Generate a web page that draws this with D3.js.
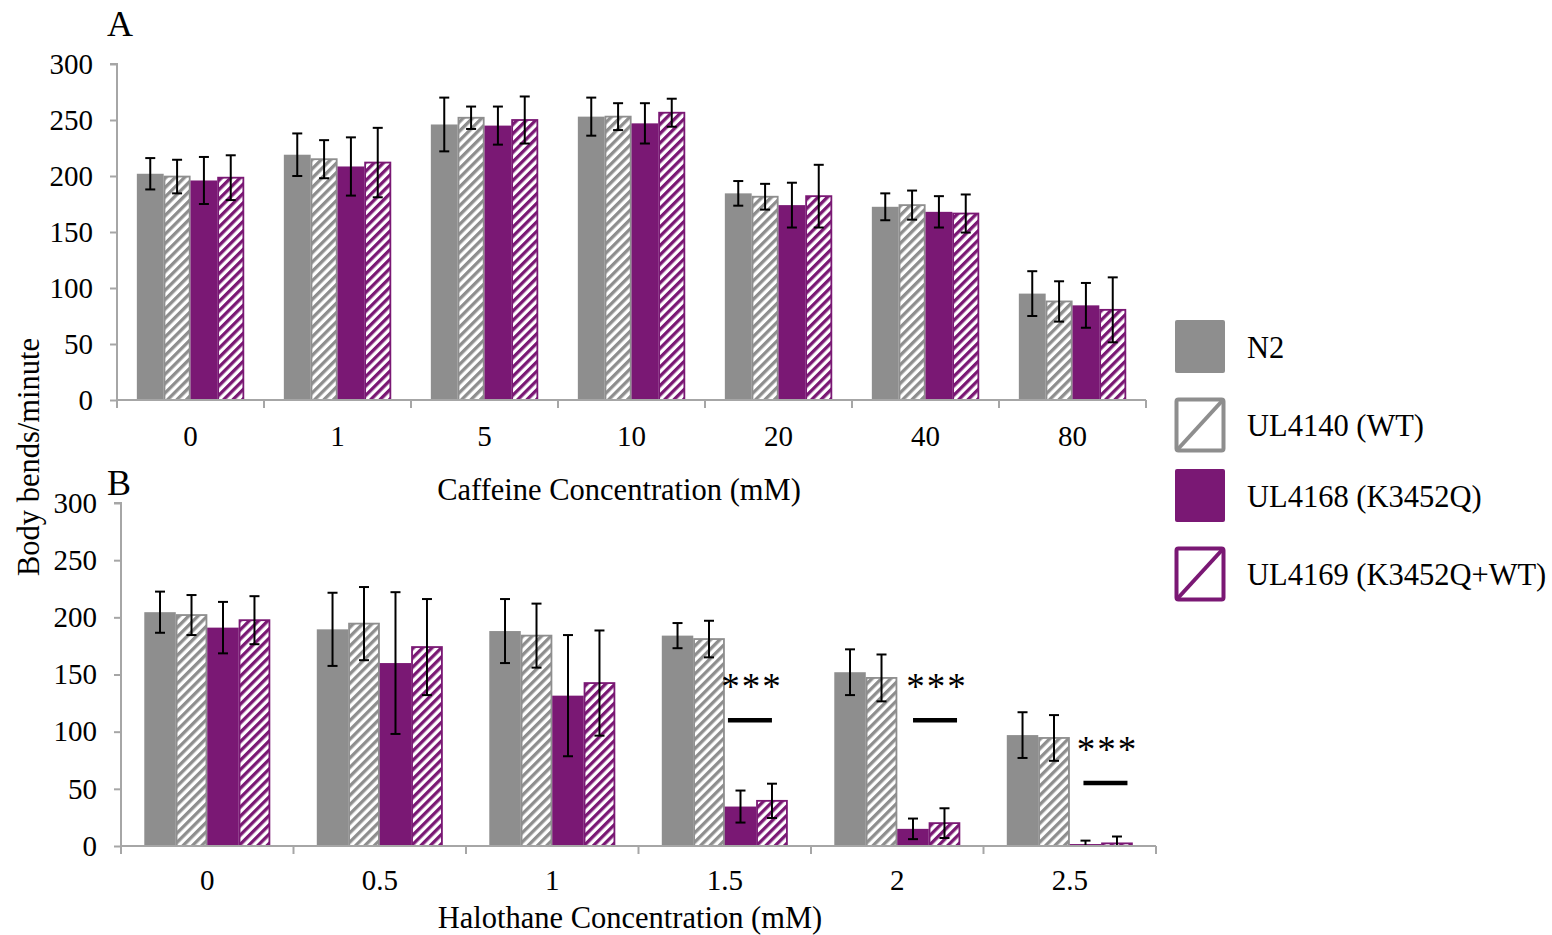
<!DOCTYPE html>
<html>
<head>
<meta charset="utf-8">
<script src="https://cdn.jsdelivr.net/npm/d3@7"></script>
<style>
  html, body { margin: 0; padding: 0; background: #fff; }
  svg { display: block; }
  text { font-family: "Liberation Serif", "Times New Roman", serif; fill: #000; }
</style>
</head>
<body>
<svg id="chart" width="1552" height="935"></svg>
<script>
// ---------------- DATA ----------------
const seriesNames = ["N2", "UL4140 (WT)", "UL4168 (K3452Q)", "UL4169 (K3452Q+WT)"];

// Panel A: caffeine
const caffeineConc = ["0", "1", "5", "10", "20", "40", "80"];
const caffN2      = [202, 219, 246, 253, 184.5, 172.5, 95];
const caffN2Err   = [14, 19, 24, 17, 11, 12, 20];
const caffWT      = [199.5, 215, 252, 253, 181.5, 174, 88];
const caffWTErr   = [15, 17, 10, 12, 11.5, 13, 18];
const caffK       = [196, 208.5, 245, 247, 174, 168, 84.5];
const caffKErr    = [21, 26, 17, 18, 20, 14, 20];
const caffKWT     = [198.5, 212, 250, 256.5, 182, 166.5, 80.5];
const caffKWTErr  = [20, 31, 21, 12.5, 28, 17, 29];

// Panel B: halothane
const halothaneConc = ["0", "0.5", "1", "1.5", "2", "2.5"];
const haloN2      = [204.5, 189.5, 188, 184, 152, 97];
const haloN2Err   = [18, 32, 28, 11, 20, 20];
const haloWT      = [202, 194.5, 184, 181, 147, 94.5];
const haloWTErr   = [17.5, 32, 28, 16, 20.5, 20];
const haloK       = [191, 160, 131.5, 34.5, 15, 1.7];
const haloKErr    = [22.5, 62, 53, 14, 9, 3];
const haloKWT     = [197.5, 174, 142.5, 39.5, 20, 2.3];
const haloKWTErr  = [21, 42, 46, 15, 13, 6];

// significance annotations (panel B)
const sigConc  = ["1.5", "2", "2.5"];
const sigLabel = ["***", "***", "***"];
const sigValue = [110, 110, 55];          // y-value of the bar under the stars
const sigFrac  = [0.646, 0.719, 0.707];   // position within the category band

const yTicks = [0, 50, 100, 150, 200, 250, 300];

// ---------------- STYLE ----------------
const GRAY = "#8e8e8e";
const PURPLE = "#7a1874";
const AXIS = "#a6a6a6";
const TICK_FS = "29px";
const TITLE_FS = "30.5px";
const styles = [
  { fill: GRAY, stroke: "none" },
  { fill: "url(#hatchGray)", stroke: GRAY },
  { fill: PURPLE, stroke: "none" },
  { fill: "url(#hatchPurple)", stroke: PURPLE }
];

const svg = d3.select("#chart");
const defs = svg.append("defs");
function hatch(id, color) {
  const p = defs.append("pattern")
    .attr("id", id).attr("patternUnits", "userSpaceOnUse")
    .attr("width", 6.6).attr("height", 6.6)
    .attr("patternTransform", "rotate(45)");
  p.append("rect").attr("width", 6.6).attr("height", 6.6).attr("fill", "#fff");
  p.append("rect").attr("x", 0).attr("width", 3.3).attr("height", 6.6).attr("fill", color);
}
hatch("hatchGray", GRAY);
hatch("hatchPurple", PURPLE);

function buildRows(cats, vals, errs) {
  return cats.map((c, i) => ({
    cat: c,
    items: vals.map((v, s) => ({ s, v: v[i], e: errs[s][i] }))
  }));
}

function drawPanel(opts) {
  const { cats, rows, x0, x1, yTop, yBot, xTitle, xTitleX, xTitleY, labelY, letter, letterY } = opts;
  const g = svg.append("g");
  const x = d3.scaleBand().domain(cats).range([x0, x1]).padding(0);
  const bw = x.bandwidth();
  const inner = d3.scaleBand().domain(d3.range(seriesNames.length))
    .range([bw * 0.135, bw * 0.865]).padding(0);
  const y = d3.scaleLinear().domain([0, 300]).range([yBot, yTop]);

  // y axis
  const ya = g.append("g").attr("transform", `translate(${x0},0)`)
    .call(d3.axisLeft(y).tickValues(yTicks).tickSize(7).tickPadding(17));
  ya.selectAll("path, line").attr("stroke", AXIS).attr("stroke-width", 2);
  ya.select(".domain").attr("d", `M-7,${yTop}H0V${yBot}`);
  ya.selectAll("text").style("font-family", "Liberation Serif").style("font-size", TICK_FS).attr("fill", "#000");

  // bars
  const grp = g.selectAll(".grp").data(rows).enter().append("g")
    .attr("transform", d => `translate(${x(d.cat)},0)`);
  grp.selectAll("rect").data(d => d.items).enter().append("rect")
    .attr("x", d => inner(d.s) + (styles[d.s].stroke !== "none" ? 0.8 : 0))
    .attr("width", d => inner.bandwidth() - (styles[d.s].stroke !== "none" ? 1.6 : 0))
    .attr("y", d => y(d.v))
    .attr("height", d => y(0) - y(d.v))
    .attr("fill", d => styles[d.s].fill)
    .attr("stroke", d => styles[d.s].stroke)
    .attr("stroke-width", 1.8);

  // error bars
  const eb = grp.selectAll(".eb").data(d => d.items).enter().append("g")
    .attr("transform", d => `translate(${inner(d.s) + inner.bandwidth() / 2},0)`);
  eb.append("line").attr("x1", 0).attr("x2", 0)
    .attr("y1", d => y(d.v + d.e)).attr("y2", d => y(Math.max(0, d.v - d.e)))
    .attr("stroke", "#000").attr("stroke-width", 2);
  eb.append("line").attr("x1", -5).attr("x2", 5)
    .attr("y1", d => y(d.v + d.e)).attr("y2", d => y(d.v + d.e))
    .attr("stroke", "#000").attr("stroke-width", 2);
  eb.filter(d => d.v - d.e > 0).append("line").attr("x1", -5).attr("x2", 5)
    .attr("y1", d => y(d.v - d.e)).attr("y2", d => y(d.v - d.e))
    .attr("stroke", "#000").attr("stroke-width", 2);

  // x axis baseline and boundary ticks
  g.append("line").attr("x1", x0).attr("x2", x1).attr("y1", yBot).attr("y2", yBot)
    .attr("stroke", AXIS).attr("stroke-width", 2);
  const bounds = cats.map(c => x(c)).concat([x1]);
  g.selectAll(".bt").data(bounds).enter().append("line")
    .attr("x1", d => d).attr("x2", d => d).attr("y1", yBot).attr("y2", yBot + 8)
    .attr("stroke", AXIS).attr("stroke-width", 2);

  // category labels via axis
  const xa = g.append("g").attr("transform", `translate(0,${labelY})`)
    .call(d3.axisBottom(x).tickSize(0).tickPadding(0));
  xa.select(".domain").remove();
  xa.selectAll("text").style("font-family", "Liberation Serif").style("font-size", TICK_FS)
    .attr("fill", "#000").attr("dy", "0.35em").attr("y", 0);

  // axis title
  g.append("text").attr("x", xTitleX).attr("y", xTitleY)
    .attr("text-anchor", "middle").attr("dy", "0.35em").style("font-size", TITLE_FS).text(xTitle);

  // panel letter
  g.append("text").attr("x", 107).attr("y", letterY).style("font-size", "36px").text(letter);

  return { x, y, inner, g };
}

const A = drawPanel({
  cats: caffeineConc,
  rows: buildRows(caffeineConc, [caffN2, caffWT, caffK, caffKWT], [caffN2Err, caffWTErr, caffKErr, caffKWTErr]),
  x0: 117, x1: 1146, yTop: 64, yBot: 400,
  xTitle: "Caffeine Concentration (mM)", xTitleX: 619, xTitleY: 489, labelY: 436,
  letter: "A", letterY: 36
});

const B = drawPanel({
  cats: halothaneConc,
  rows: buildRows(halothaneConc, [haloN2, haloWT, haloK, haloKWT], [haloN2Err, haloWTErr, haloKErr, haloKWTErr]),
  x0: 121, x1: 1156, yTop: 503, yBot: 846,
  xTitle: "Halothane Concentration (mM)", xTitleX: 630, xTitleY: 917, labelY: 880,
  letter: "B", letterY: 495
});

// significance
sigConc.forEach((c, i) => {
  const cx = B.x(c) + B.x.bandwidth() * sigFrac[i];
  const ly = B.y(sigValue[i]);
  svg.append("line").attr("x1", cx - 22).attr("x2", cx + 22).attr("y1", ly).attr("y2", ly)
    .attr("stroke", "#000").attr("stroke-width", 4.5);
  svg.append("text").attr("x", cx + 2).attr("y", ly - 21).attr("text-anchor", "middle")
    .style("font-size", "37px").style("letter-spacing", "2px").text(sigLabel[i]);
});

// y axis title
svg.append("text").attr("transform", "translate(39,457) rotate(-90)")
  .attr("text-anchor", "middle").style("font-size", TITLE_FS).text("Body bends/minute");

// legend
const legTop = [320, 398, 469, 547];
const leg = svg.append("g");
seriesNames.forEach((name, i) => {
  const gy = legTop[i];
  const gg = leg.append("g").attr("transform", `translate(1175,${gy})`);
  if (i % 2 === 0) {
    gg.append("rect").attr("width", 50).attr("height", 53).attr("rx", 2)
      .attr("fill", styles[i].fill);
  } else {
    const col = styles[i].stroke;
    gg.append("rect").attr("x", 1.5).attr("y", 1.5).attr("width", 47).attr("height", 51).attr("rx", 2)
      .attr("fill", "#fff").attr("stroke", col).attr("stroke-width", 4);
    gg.append("line").attr("x1", 3).attr("y1", 51).attr("x2", 47).attr("y2", 3)
      .attr("stroke", col).attr("stroke-width", 4);
  }
  leg.append("text").attr("x", 1247).attr("y", gy + 27).attr("dy", "0.35em")
    .style("font-size", TITLE_FS).text(name);
});
</script>
</body>
</html>
